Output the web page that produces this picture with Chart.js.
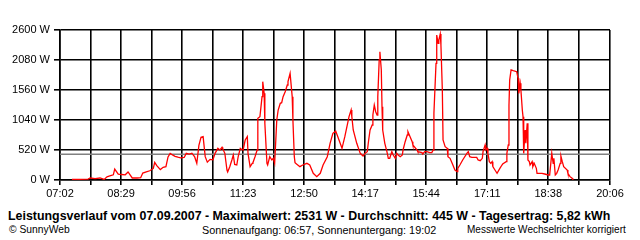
<!DOCTYPE html>
<html><head><meta charset="utf-8">
<script src="https://cdn.jsdelivr.net/npm/chart.js@4/dist/chart.umd.min.js"></script>
<style>
html,body{margin:0;padding:0;background:#fff;}
#wrap{position:relative;width:640px;height:240px;overflow:hidden;font-family:"Liberation Sans",Arial,sans-serif;color:#000;}
#cv{position:absolute;left:0;top:0;}
.t{position:absolute;white-space:nowrap;line-height:1;}
</style></head><body>
<div id="wrap">
<canvas id="cv" width="640" height="200"></canvas>
<div class="t" id="title" style="left:8px;top:210px;font-weight:bold;font-size:12.4px;">Leistungsverlauf vom 07.09.2007 - Maximalwert: 2531 W - Durchschnitt: 445 W - Tagesertrag: 5,82 kWh</div>
<div class="t" style="left:9px;top:225px;font-size:10.3px;">© SunnyWeb</div>
<div class="t" style="left:202px;top:225px;font-size:10.8px;">Sonnenaufgang: 06:57, Sonnenuntergang: 19:02</div>
<div class="t" style="left:467px;top:225px;font-size:10px;">Messwerte Wechselrichter korrigiert</div>
</div>
<script>
// tick labels
const xTickLabels = ['07:02','08:29','09:56','11:23','12:50','14:17','15:44','17:11','18:38','20:06'];
const yTickValues = [0,520,1040,1560,2080,2600];
const averageW = 445;
// measurement times (minutes since midnight) and power (W)
const minutes = [439,450,462,465,472,479,485,489,493,498,500,505,510,515,519,525,532,537,540,545,550,555,557,560,565,569,573,576,579,583,586,590,594,599,602,606,610,614,617,620,623,626,629,632,636,640,643,647,650,653,654,657,660,661,664,667,669,671,674,676,679,681,683,686,689,690,693,696,697,700,703,704,707,710,711,713,714,717,718,721,724,726,728,731,733,736,738,740,743,746,747,750,753,754,756,757,760,764,768,774,778,783,788,793,797,803,807,811,815,818,824,828,831,834,837,838,840,845,850,854,857,860,862,864,867,868,870,872,874,875,877,878,880,881,882,885,888,890,892,895,897,900,902,904,907,910,911,914,917,918,921,924,925,931,932,938,939,942,945,949,952,954,955,958,959,961,962,964,965,967,968,971,974,975,978,981,985,988,989,992,996,1002,1004,1006,1009,1014,1016,1018,1021,1024,1025,1028,1029,1031,1032,1034,1036,1038,1039,1042,1045,1046,1049,1052,1053,1058,1059,1061,1062,1063,1065,1068,1073,1075,1076,1078,1079,1081,1082,1083,1085,1086,1088,1089,1091,1092,1095,1096,1098,1101,1102,1109,1113,1118,1120,1123,1125,1126,1128,1130,1132,1135,1136,1138,1140,1145,1146,1149,1152,1153];
const watts = [10,12,15,35,25,35,10,55,70,90,190,100,95,90,140,35,35,40,120,140,160,200,306,250,180,220,230,400,462,430,410,395,385,390,462,450,465,400,290,600,740,751,404,310,358,350,462,549,520,566,540,462,173,140,231,347,433,270,260,404,549,530,520,693,751,462,231,289,300,404,520,1069,1098,1444,1704,1502,982,289,260,404,347,376,289,1040,1213,1329,1340,1444,1531,1647,1704,1849,1444,1040,404,300,270,231,260,289,260,116,58,116,260,404,636,809,849,751,549,751,924,1098,1213,1098,867,636,462,416,462,491,693,867,953,1127,1300,1184,1127,1444,2080,2224,1907,1271,867,636,491,376,376,491,433,376,462,433,404,433,520,664,780,838,751,664,607,520,491,474,450,491,491,474,474,520,1156,2022,2513,2369,2427,2531,2340,1560,693,578,549,404,376,289,173,144,202,260,347,462,491,404,393,393,393,347,335,376,491,607,520,549,462,318,289,318,231,173,116,116,202,260,277,318,462,607,1300,1733,1907,1895,1878,1762,1502,1676,1560,1213,1098,462,867,636,982,347,318,260,318,231,289,202,116,116,104,87,87,462,289,376,87,116,173,289,416,318,231,173,116,58,29,12];

const toMin = s => { const [h,m] = s.split(':').map(Number); return h*60+m; };
const labelMins = xTickLabels.map(toMin);
const gridMins = [];
labelMins.forEach((v,i) => { gridMins.push(v); if (i < labelMins.length-1) gridMins.push((v + labelMins[i+1]) / 2); });
const labelAt = {}; labelMins.forEach((v,i) => labelAt[v] = xTickLabels[i]);

const font = {family:'"Liberation Sans", Arial, sans-serif', size:11};
new Chart(document.getElementById('cv'), {
  type:'line',
  data:{datasets:[
    {data: minutes.map((m,i)=>({x:m,y:watts[i]})), borderColor:'#ff0000', borderWidth:1.3, pointRadius:0, tension:0, fill:false, order:0},
    {data:[{x:labelMins[0],y:averageW},{x:labelMins[labelMins.length-1],y:averageW}], borderColor:'#808080', borderWidth:1.5, pointRadius:0, fill:false, order:1}
  ]},
  options:{
    responsive:false, animation:false, devicePixelRatio:1,
    layout:{padding:{top:30,right:30,left:0,bottom:0}},
    plugins:{legend:{display:false}, tooltip:{enabled:false}},
    scales:{
      x:{type:'linear', min:labelMins[0], max:labelMins[labelMins.length-1],
        afterBuildTicks: s => { s.ticks = gridMins.map(v=>({value:v})); },
        afterFit: s => { s.height = 20; },
        ticks:{autoSkip:false, maxRotation:0, minRotation:0, color:'#000', font, padding:2,
          callback: v => labelAt[v] || ''},
        grid:{color:'#000', lineWidth:1.6, tickLength:5, drawTicks:true},
        border:{color:'#000', width:1.6}},
      y:{min:0, max:2600,
        afterBuildTicks: s => { s.ticks = yTickValues.map(v=>({value:v})); },
        afterFit: s => { s.width = 60; },
        ticks:{color:'#000', font, padding:4, callback: v => v + ' W'},
        grid:{color:'#000', lineWidth:1.6, tickLength:6},
        border:{color:'#000', width:1.6}}
    }
  }
});
</script>
</body></html>
